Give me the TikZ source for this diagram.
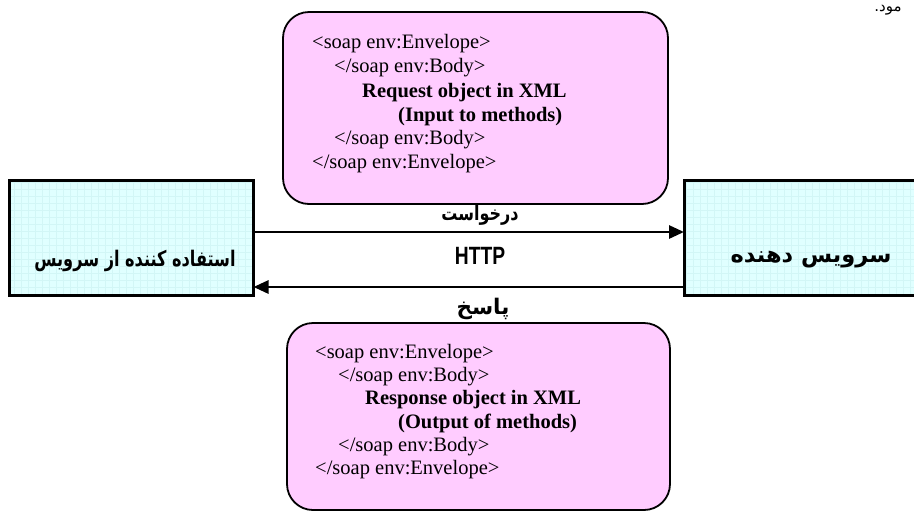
\documentclass[tikz,border=0pt]{standalone}
\usepackage{fontspec}
\setmainfont{Liberation Serif}
\newfontfamily\fa[Script=Arabic]{DejaVu Sans}
\newfontfamily\hsans{Liberation Sans}
\TeXXeTstate=1
\usetikzlibrary{arrows.meta}
\definecolor{pinkfill}{HTML}{FFCCFF}
\definecolor{cyanfill}{HTML}{E0FFFF}
\definecolor{cyangrid}{HTML}{D2F6F6}
\tikzset{
  xmlbox/.style={draw=black, line width=1.8pt, fill=pinkfill, rounded corners=26pt},
  partybox/.style={draw=black, line width=3pt},
  xmlline/.style={anchor=base west, inner sep=0pt, font=\fontsize{20.5}{24}\selectfont},
  falabel/.style={inner sep=0pt, font=\fa\bfseries\fontsize{19}{22}\selectfont},
  link/.style={line width=2.8pt, -{Triangle[length=15pt,width=13pt]}},
}
\begin{document}
\begin{tikzpicture}[x=1pt,y=-1pt]
\clip (0,0) rectangle (914,515);
\fill[white] (0,0) rectangle (914,515);
% top xml box
\node[xmlbox, minimum width=385pt, minimum height=192pt] (reqbox) at (475.5,108) {};
\node[xmlline] (r1) at (312,48) {<soap env:Envelope>};
\node[xmlline] (r2) at (334,72) {</soap env:Body>};
\node[xmlline, font=\bfseries\fontsize{20.5}{24}\selectfont] (r3) at (362,97) {Request object in XML};
\node[xmlline, font=\bfseries\fontsize{20.5}{24}\selectfont] (r4) at (398,121) {(Input to methods)};
\node[xmlline] (r5) at (334,144) {</soap env:Body>};
\node[xmlline] (r6) at (312,168) {</soap env:Envelope>};
% bottom xml box
\node[xmlbox, minimum width=383pt, minimum height=187pt] (resbox) at (478.5,416.5) {};
\node[xmlline] (s1) at (315,358) {<soap env:Envelope>};
\node[xmlline] (s2) at (338,381) {</soap env:Body>};
\node[xmlline, font=\bfseries\fontsize{20.5}{24}\selectfont] (s3) at (365,404) {Response object in XML};
\node[xmlline, font=\bfseries\fontsize{20.5}{24}\selectfont] (s4) at (398,428) {(Output of methods)};
\node[xmlline] (s5) at (338,451) {</soap env:Body>};
\node[xmlline] (s6) at (315,474) {</soap env:Envelope>};
% party boxes
\node[partybox, minimum width=241pt, minimum height=112pt] (client) at (131.5,238) {};
\node[partybox, minimum width=244pt, minimum height=112pt, anchor=west] (server) at (684,238) {};
\foreach \b in {client,server}{
  \fill[cyanfill] (\b.north west) rectangle (\b.south east);
  \begin{scope}
    \clip (\b.north west) rectangle (\b.south east);
    \draw[cyangrid, line width=0.3pt, step=7pt] (\b.north west) grid (\b.south east);
  \end{scope}
  \draw[line width=3pt] (\b.north west) rectangle (\b.south east);
}
\node[falabel, font=\fa\bfseries\fontsize{21.5}{24}\selectfont] (clientlbl) at (135,261) {\scalebox{0.75}[1]{\beginR استفاده کننده از سرویس\endR}};
\node[falabel, font=\fa\bfseries\fontsize{22.5}{26}\selectfont] (serverlbl) at (811,260) {\beginR سرویس دهنده\endR};
% connectors
\draw[link] ([yshift=6pt]client.east) -- ([yshift=6pt]server.west);
\draw[link] ([yshift=-49pt]server.west) -- ([yshift=-49pt]client.east);
% labels
\node[falabel, font=\fa\bfseries\fontsize{20}{24}\selectfont] (reqlbl) at (480,215) {\scalebox{0.8}[1]{\beginR درخواست\endR}};
\node[inner sep=0pt, font=\hsans\bfseries\fontsize{25}{28}\selectfont] (http) at (480,256) {\scalebox{0.77}[1]{HTTP}};
\node[falabel, font=\fa\bfseries\fontsize{21.5}{24}\selectfont] (reslbl) at (483,309) {\beginR پاسخ\endR};
% cropped caption fragment
\node[inner sep=0pt, font=\fa\fontsize{15}{18}\selectfont] (frag) at (888,10) {\beginR مود.\endR};
\end{tikzpicture}
\end{document}
